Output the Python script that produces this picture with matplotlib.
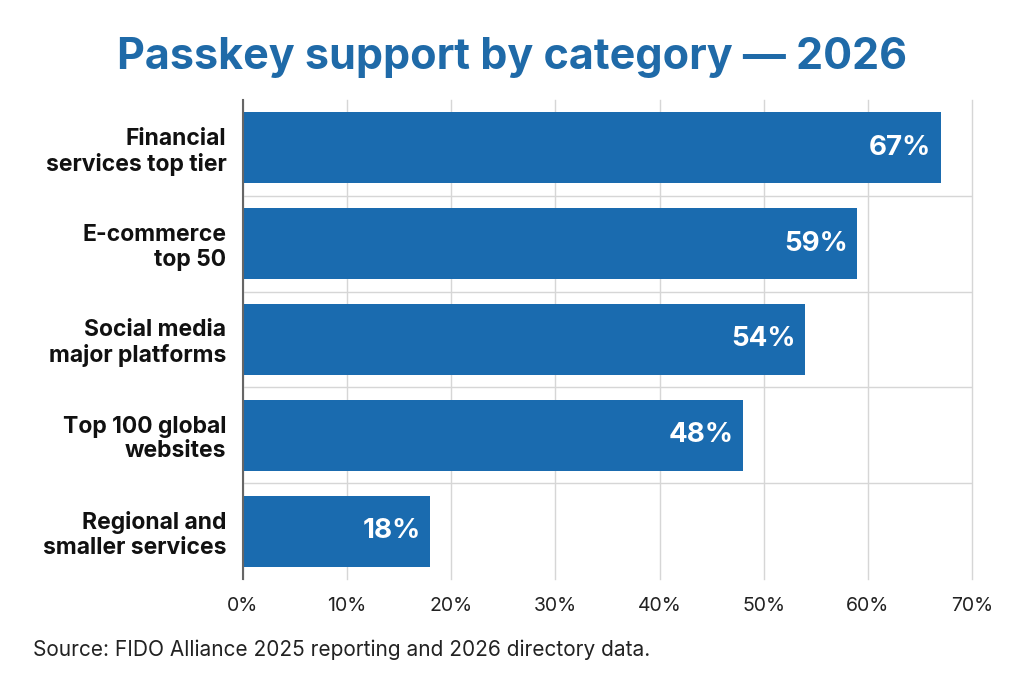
import matplotlib
matplotlib.use('Agg')
import matplotlib.pyplot as plt
from matplotlib.ticker import FuncFormatter

# data
categories = ['Financial\nservices top tier', 'E-commerce\ntop 50', 'Social media\nmajor platforms',
              'Top 100 global\nwebsites', 'Regional and\nsmaller services']
values = [67, 59, 54, 48, 18]
xticks = [0, 10, 20, 30, 40, 50, 60, 70]

blue = '#1a6baf'
title_blue = '#1f6aa8'
grid_col = '#d6d6d6'

plt.rcParams['font.family'] = ['Inter', 'DejaVu Sans']

fig = plt.figure(figsize=(10.24, 6.83), dpi=100)
ax = fig.add_axes([0.2373, 0.1523, 0.7119, 0.7013])

y = list(range(len(categories)))
ax.barh(y, values, height=0.74, color=blue, zorder=3)
ax.set_ylim(len(categories) - 0.5, -0.5)
ax.set_xlim(0, 70)

# grid: vertical at ticks, horizontal between categories
ax.set_xticks(xticks)
ax.xaxis.set_major_formatter(FuncFormatter(lambda v, p: f'{int(v)}%'))
ax.grid(axis='x', color=grid_col, linewidth=1, zorder=0)
for line in ax.get_xgridlines():
    line.set_clip_on(False)
for b in range(1, len(categories)):
    ax.axhline(b - 0.5, color=grid_col, linewidth=1, zorder=0)

ax.set_yticks(y)
ax.set_yticklabels(categories, fontsize=16.5, fontweight='bold', color='#111111', linespacing=1.15)
ax.tick_params(axis='y', length=0, pad=12)
ax.tick_params(axis='x', length=0, pad=13, labelsize=14, labelcolor='#222222')

for s in ['top', 'right', 'bottom']:
    ax.spines[s].set_visible(False)
ax.spines['left'].set_color('#666666')
ax.spines['left'].set_linewidth(1.5)
ax.spines['left'].set_zorder(4)

for yi, v in zip(y, values):
    ax.text(v - 0.9, yi, f'{v}%', ha='right', va='center', color='white',
            fontsize=20, fontweight='bold', zorder=5)

fig.text(0.5, 0.916, 'Passkey support by category — 2026', ha='center', va='center',
         fontsize=31, fontweight='bold', color=title_blue)
fig.text(0.032, 0.049, 'Source: FIDO Alliance 2025 reporting and 2026 directory data.',
         ha='left', va='center', fontsize=15, color='#222222')

fig.savefig('out.png', dpi=100)
